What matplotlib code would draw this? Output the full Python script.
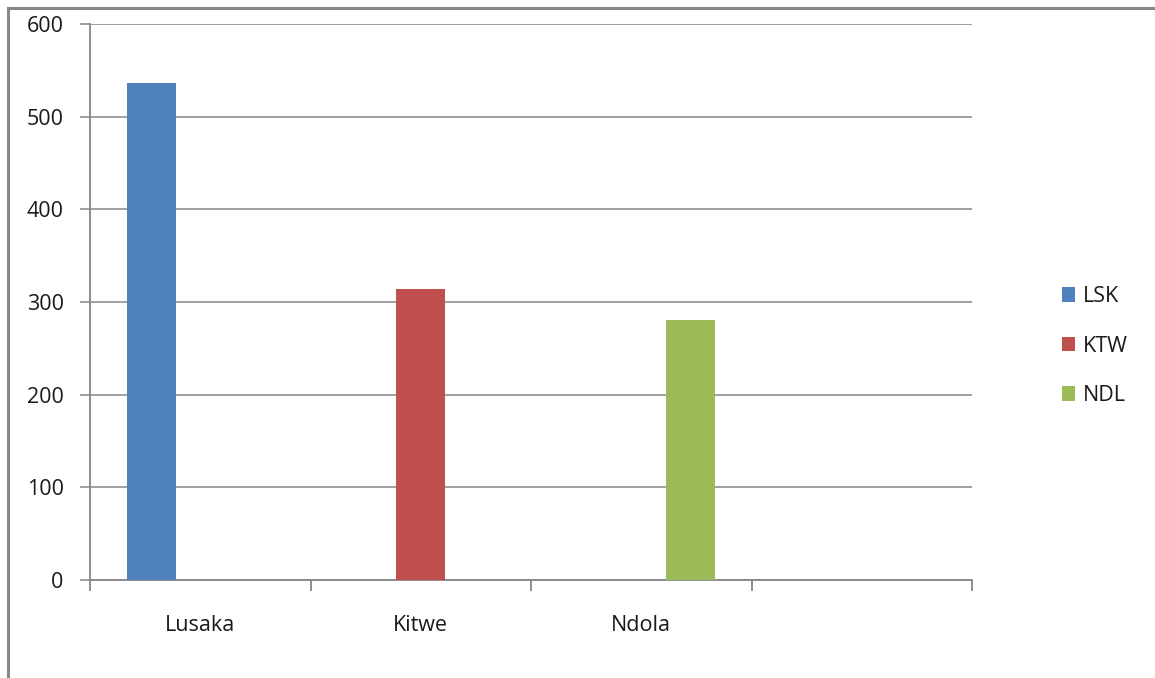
import matplotlib
matplotlib.use("Agg")
import matplotlib.pyplot as plt
from matplotlib.patches import Patch
from matplotlib.lines import Line2D
import numpy as np

# Passenger counts per town, one series per airport code
categories = ['Lusaka', 'Kitwe', 'Ndola', '']
series_names = ['LSK', 'KTW', 'NDL']
lsk = [536, 0, 0, 0]
ktw = [0, 314, 0, 0]
ndl = [0, 0, 281, 0]
colors = ['#4F81BD', '#C0504D', '#9BBB59']
yticks = [0, 100, 200, 300, 400, 500, 600]

plt.rcParams['font.family'] = ['Open Sans', 'DejaVu Sans']
FS = 15.5
GRID = '#868686'
TXT = '#1a1a1a'

W, H = 1155, 678
fig = plt.figure(figsize=(W / 100, H / 100), dpi=100)
fig.patch.set_facecolor('white')

# plot area in pixel terms
left, right, top, bottom = 90, 972, 24, 580
ax = fig.add_axes([left / W, 1 - bottom / H, (right - left) / W, (bottom - top) / H])

x = np.arange(len(categories)) + 0.5
width = 1 / 4.5  # gap width 150%
for i, (vals, c) in enumerate(zip([lsk, ktw, ndl], colors)):
  ax.bar(x + (i - 1) * width, vals, width, color=c, zorder=3)

ax.set_xlim(0, len(categories))
ax.set_ylim(0, 600)
ax.set_yticks(yticks)
ax.set_yticklabels([str(v) for v in yticks], fontsize=FS, color=TXT)
ax.yaxis.grid(True, color=GRID, linewidth=1.1, zorder=0)

# category boundaries get the tick marks, names sit between them
ax.set_xticks(np.arange(len(categories) + 1))
ax.set_xticklabels([])
ax.set_xticks(x, minor=True)
ax.set_xticklabels(categories, minor=True, fontsize=FS, color=TXT)
ax.tick_params(axis='x', which='major', length=8, color=GRID, width=1.3, direction='out')
ax.tick_params(axis='x', which='minor', length=0, pad=25.5)
ax.tick_params(axis='y', length=7, color=GRID, width=1.1, pad=12)

for s in ['top', 'right']:
  ax.spines[s].set_visible(False)
for s in ['left', 'bottom']:
  ax.spines[s].set_color(GRID)
  ax.spines[s].set_linewidth(1.3)

handles = [Patch(facecolor=c, edgecolor='none') for c in colors]
leg = fig.legend(handles, series_names, loc='center left',
                 bbox_to_anchor=(1062 / W, 1 - 346 / H), frameon=False,
                 fontsize=FS, handlelength=0.6, handleheight=0.65,
                 handletextpad=0.35, labelspacing=1.32, borderpad=0, borderaxespad=0)
for t in leg.get_texts():
  t.set_color(TXT)

# chart border (only the top and left edges fall inside the image)
fig.add_artist(Line2D([7.5 / W, 1], [1 - 8 / H, 1 - 8 / H], color='#878787', linewidth=2.2, transform=fig.transFigure))
fig.add_artist(Line2D([7.5 / W, 7.5 / W], [0, 1 - 8 / H], color='#878787', linewidth=2.2, transform=fig.transFigure))

fig.savefig('out.png', dpi=100)
